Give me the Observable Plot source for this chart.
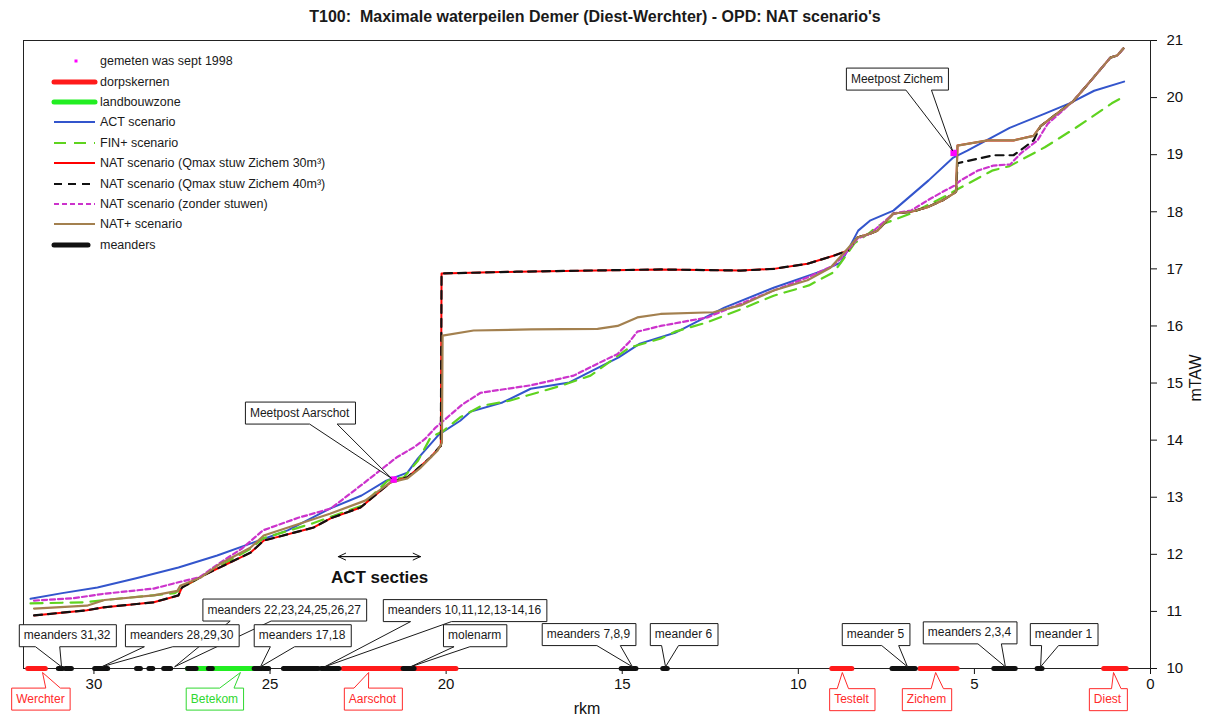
<!DOCTYPE html>
<html><head><meta charset="utf-8">
<script src="https://cdn.jsdelivr.net/npm/d3@7"></script>
<script src="https://cdn.jsdelivr.net/npm/@observablehq/plot@0.6"></script>
<style>
body{margin:0;background:#fff;font-family:"Liberation Sans",Arial,sans-serif;}
#wrap{position:relative;width:1205px;height:720px;overflow:hidden;}
#title{position:absolute;left:0;top:8px;width:1190px;text-align:center;font-family:"Liberation Sans Narrow","Liberation Sans",Arial,sans-serif;font-weight:bold;font-size:16px;white-space:pre;color:#1a1a1a;}
#chart{position:absolute;left:0;top:30px;}
#legend{position:absolute;left:50px;top:51px;font-size:12.5px;color:#1a1a1a;}
#legend .row{height:20.4px;display:flex;align-items:center;}
#legend svg{display:block;}
</style></head><body>
<div id="wrap"><div id="title"></div><div id="chart"></div><div id="legend"></div></div>
<script>
const title = "T100:  Maximale waterpeilen Demer (Diest-Werchter) - OPD: NAT scenario's";
const xTicks = [0, 5, 10, 15, 20, 25, 30];
const yTicks = [10, 11, 12, 13, 14, 15, 16, 17, 18, 19, 20, 21];
const xLabel = "rkm";
const yLabel = "mTAW";
const baseline = 10;

// [rkm, mTAW]
const actScenario = [[31.8,11.22],[30.9,11.32],[29.9,11.42],[28.8,11.58],[27.6,11.77],[26.5,11.98],[25.5,12.2],[24.5,12.42],[23.3,12.8],[22.4,13.03],[21.7,13.29],[21.1,13.43],[20.8,13.68],[20.2,14.1],[19.6,14.34],[19.3,14.5],[18.4,14.66],[17.6,14.9],[16.5,15.01],[16.0,15.17],[15.1,15.45],[14.5,15.69],[13.5,15.88],[12.1,16.32],[10.7,16.67],[9.3,16.97],[8.8,17.11],[8.6,17.32],[8.3,17.67],[7.95,17.85],[7.3,18.02],[6.3,18.55],[5.6,18.95],[5.2,19.07],[4.0,19.47],[3.0,19.72],[2.3,19.9],[1.6,20.12],[0.75,20.28]];

const finPlus = [[31.8,11.14],[30.3,11.16],[29.2,11.23],[27.7,11.32],[27.4,11.45],[26.8,11.66],[25.55,12.1],[25.2,12.28],[23.8,12.54],[22.4,12.85],[21.66,13.29],[21.2,13.35],[20.8,13.64],[20.44,14.05],[20.1,14.15],[19.6,14.4],[19.0,14.6],[18.2,14.69],[16.7,14.96],[15.9,15.13],[14.8,15.62],[13.9,15.78],[13.5,15.9],[12.6,16.06],[11.6,16.3],[10.7,16.53],[9.7,16.71],[9.0,16.94],[8.8,17.1],[8.4,17.45],[8.0,17.62],[7.75,17.75],[6.8,17.97],[5.9,18.25],[5.4,18.42],[4.5,18.72],[4.0,18.8],[3.0,19.13],[2.1,19.48],[1.1,19.9],[0.75,20.02]];

const nat30 = [[31.7,10.93],[30.2,11.02],[29.75,11.07],[28.3,11.16],[27.6,11.28],[27.5,11.42],[26.8,11.66],[25.55,12.03],[25.18,12.24],[23.76,12.47],[23.28,12.63],[22.43,12.82],[21.58,13.26],[21.1,13.35],[20.81,13.5],[20.44,13.7],[20.2,13.87],[20.15,13.9],[20.13,16.92],[18.0,16.95],[13.91,16.99],[11.64,16.97],[10.7,17.0],[9.74,17.09],[9.0,17.23],[8.6,17.32],[8.32,17.55],[7.95,17.62],[7.75,17.67],[7.3,17.97],[6.8,18.0],[6.33,18.08],[5.9,18.2],[5.59,18.32],[5.52,18.35],[5.48,19.16],[4.63,19.25],[3.89,19.25],[3.32,19.33],[3.12,19.5],[2.19,19.94],[1.62,20.35],[1.14,20.7],[0.94,20.74],[0.77,20.86]];

const nat40 = [[31.7,10.93],[30.2,11.02],[29.75,11.07],[28.3,11.16],[27.6,11.28],[27.5,11.42],[26.8,11.66],[25.55,12.03],[25.18,12.24],[23.76,12.47],[23.28,12.63],[22.43,12.82],[21.58,13.26],[21.1,13.35],[20.81,13.5],[20.44,13.7],[20.2,13.87],[20.15,13.9],[20.13,16.92],[18.0,16.95],[13.91,16.99],[11.64,16.97],[10.7,17.0],[9.74,17.09],[9.0,17.23],[8.6,17.32],[8.32,17.55],[7.95,17.62],[7.75,17.67],[7.3,17.97],[6.8,18.0],[6.33,18.08],[5.9,18.2],[5.59,18.32],[5.52,18.35],[5.48,18.85],[4.46,18.99],[3.89,18.99],[3.6,19.12],[3.32,19.25],[3.12,19.5],[2.19,19.94],[1.62,20.35],[1.14,20.7],[0.94,20.74],[0.77,20.86]];

const natZonder = [[31.7,11.19],[30.6,11.23],[29.7,11.31],[28.3,11.4],[27.6,11.51],[27.0,11.6],[26.4,11.86],[25.8,12.1],[25.2,12.42],[24.2,12.64],[23.28,12.8],[22.35,13.24],[21.4,13.7],[20.9,13.88],[20.6,14.02],[20.3,14.22],[19.55,14.62],[19.02,14.83],[17.6,14.96],[16.38,15.13],[15.7,15.34],[15.13,15.51],[14.8,15.72],[14.57,15.9],[13.91,16.0],[12.58,16.15],[11.64,16.39],[10.7,16.62],[9.74,16.85],[9.0,17.06],[8.72,17.23],[8.32,17.53],[7.95,17.62],[7.3,17.97],[6.8,18.02],[6.33,18.2],[5.9,18.35],[5.59,18.45],[5.39,18.55],[4.91,18.72],[4.46,18.81],[3.98,18.83],[3.69,19.02],[3.21,19.25],[2.92,19.54],[2.19,19.94],[1.62,20.35],[1.14,20.7],[0.94,20.74],[0.77,20.86]];

const natPlus = [[31.7,11.05],[30.2,11.1],[29.7,11.2],[28.3,11.28],[27.63,11.36],[27.55,11.45],[26.95,11.6],[26.4,11.84],[25.55,12.12],[25.18,12.33],[23.3,12.71],[22.3,12.94],[21.58,13.26],[21.1,13.33],[20.72,13.52],[20.24,13.82],[20.12,13.95],[20.1,15.83],[19.22,15.92],[17.6,15.94],[15.7,15.95],[15.13,16.0],[14.57,16.15],[13.91,16.21],[12.41,16.24],[11.64,16.36],[10.7,16.62],[9.74,16.8],[9.09,17.02],[8.72,17.27],[8.32,17.55],[7.95,17.62],[7.75,17.67],[7.3,17.97],[6.8,18.0],[6.33,18.08],[5.9,18.2],[5.59,18.32],[5.52,18.35],[5.48,19.16],[4.63,19.25],[3.89,19.25],[3.32,19.33],[3.12,19.5],[2.19,19.94],[1.62,20.35],[1.14,20.7],[0.94,20.74],[0.77,20.86]];

const gemeten = [[21.49,13.31],[5.59,19.03]];

// zones along the river: [from rkm, to rkm]
const dorpskernen = [[31.88,31.38],[22.93,19.72],[9.05,8.48],[6.55,5.49],[1.33,0.69]];
const landbouwzone = [[27.34,25.14]];
const meanders = [[31.01,30.89],[30.81,30.64],[29.98,29.61],[28.79,28.68],[28.44,28.33],[28.02,27.82],[27.34,27.1],[26.75,26.64],[25.45,25.24],[25.18,25.04],[24.62,23.63],[23.55,23.04],[21.22,20.91],[15.03,14.61],[13.85,13.72],[7.34,6.68],[4.45,3.84],[3.22,3.08]];

// callouts: label, box centre (rkm, mTAW), pointer tip (rkm, mTAW)
const calloutLabels = ["meanders 31,32","meanders 22,23,24,25,26,27","meanders 28,29,30","meanders 17,18","meanders 10,11,12,13-14,16","molenarm","meanders 7,8,9","meander 6","meander 5","meanders 2,3,4","meander 1","Meetpost Aarschot","Meetpost Zichem","Werchter","Betekom","Aarschot","Testelt","Zichem","Diest"];
const calloutBoxKm = [30.76,24.6,27.51,24.09,19.48,19.19,15.96,13.26,7.81,5.14,2.47,24.16,7.2,31.52,26.58,22.09,8.49,6.36,1.22];
const calloutBoxH = [10.58,11.03,10.58,10.58,11.02,10.58,10.6,10.6,10.6,10.63,10.6,14.48,20.33,9.47,9.47,9.47,9.46,9.46,9.46];
const calloutTipKm = [30.92,27.71,29.78,25.27,23.45,21.01,14.71,13.77,6.9,4.12,3.12,21.55,5.62,31.46,25.84,22.2,8.75,6.1,1.05];
const calloutTipH = [10.03,10.03,10.03,10.03,10.03,10.03,10.03,10.03,10.03,10.03,10.03,13.33,19.07,9.93,9.93,9.93,9.93,9.93,9.93];
const calloutKind = ["m","m","m","m","m","m","m","m","m","m","m","m","m","dorp","landbouw","dorp","dorp","dorp","dorp"];

const actSecties = {label: "ACT secties", from: 23.06, to: 20.73, level: 11.96, textKm: 21.89, textH: 11.59};

const legendLabels = ["gemeten was sept 1998","dorpskernen","landbouwzone","ACT scenario","FIN+ scenario","NAT scenario (Qmax stuw Zichem 30m³)","NAT scenario (Qmax stuw Zichem 40m³)","NAT scenario (zonder stuwen)","NAT+ scenario","meanders"];

// styles
const kindColor = {m: "#1a1a1a", dorp: "#ff2a2a", landbouw: "#2fd82f"};
const styles = {
  act: {stroke: "#3355cc", strokeWidth: 2},
  fin: {stroke: "#5fd31f", strokeWidth: 2.2, strokeDasharray: "12,8"},
  nat30: {stroke: "#ff0000", strokeWidth: 2},
  nat40: {stroke: "#111111", strokeWidth: 2.2, strokeDasharray: "8,6"},
  zonder: {stroke: "#cc33cc", strokeWidth: 2.2, strokeDasharray: "5,3"},
  natPlus: {stroke: "#a3804f", strokeWidth: 2.2},
  dorp: {stroke: "#ff1a1a", strokeWidth: 5, strokeLinecap: "round"},
  land: {stroke: "#22ee22", strokeWidth: 5, strokeLinecap: "round"},
  meander: {stroke: "#111111", strokeWidth: 5, strokeLinecap: "round"}
};

document.getElementById("title").textContent = title;

const callouts = calloutLabels.map((label, i) => ({label, x: calloutBoxKm[i], y: calloutBoxH[i], tx: calloutTipKm[i], ty: calloutTipH[i], kind: calloutKind[i]}));
const px = d => d[0], py = d => d[1];
const zone = (data, st) => Plot.link(data, {x1: d => d[0], x2: d => d[1], y1: () => baseline, y2: () => baseline, ...st});

const chart = Plot.plot({
  width: 1205, height: 690,
  marginTop: 10, marginBottom: 52, marginLeft: 23, marginRight: 55,
  style: {fontFamily: "'Liberation Sans', Arial, sans-serif", fontSize: "15px", color: "#111", background: "white"},
  x: {domain: [32, 0], label: null},
  y: {domain: [10, 21], label: null},
  color: {type: "identity"},
  marks: [
    Plot.axisX({ticks: xTicks, tickSize: 6, tickPadding: 4, label: null, tickFormat: d => String(d)}),
    Plot.axisY({anchor: "right", ticks: yTicks, tickSize: 6, tickPadding: 10, label: null, tickFormat: d => String(d)}),
    Plot.text([xLabel], {frameAnchor: "bottom", text: d => d, dy: 45, fontSize: 16}),
    Plot.text([yLabel], {frameAnchor: "right", text: d => d, dx: 45, rotate: -90, fontSize: 16}),
    Plot.line(actScenario, {x: px, y: py, ...styles.act}),
    Plot.line(finPlus, {x: px, y: py, ...styles.fin}),
    Plot.line(nat30, {x: px, y: py, ...styles.nat30}),
    Plot.line(nat40, {x: px, y: py, ...styles.nat40}),
    Plot.line(natZonder, {x: px, y: py, ...styles.zonder}),
    Plot.line(natPlus, {x: px, y: py, ...styles.natPlus}),
    Plot.frame({stroke: "#222"}),
    zone(dorpskernen, styles.dorp),
    zone(landbouwzone, styles.land),
    zone(meanders, styles.meander),
    Plot.dot(gemeten, {x: px, y: py, symbol: "square", r: 3.6, fill: "#ff00ff", stroke: "none"}),
    Plot.arrow([actSecties], {x1: d => d.from, x2: d => d.to, y1: d => d.level, y2: d => d.level, stroke: "#111", strokeWidth: 1, headLength: 12, headAngle: 50}),
    Plot.arrow([actSecties], {x1: d => d.to, x2: d => d.from, y1: d => d.level, y2: d => d.level, stroke: "#111", strokeWidth: 1, headLength: 12, headAngle: 50}),
    Plot.text([actSecties], {x: d => d.textKm, y: d => d.textH, text: d => d.label, fontSize: 17, fontWeight: "bold", fill: "#111"}),
    Plot.text(callouts, {x: "x", y: "y", text: "label", fill: d => kindColor[d.kind], fontSize: 12, ariaLabel: "callouts", className: "callouts"})
  ]
});
document.getElementById("chart").appendChild(chart);

// draw callout boxes with wedge pointers around the callout texts
(function drawCallouts() {
  const ns = "http://www.w3.org/2000/svg";
  const xs = chart.scale("x"), ys = chart.scale("y");
  const sr = chart.getBoundingClientRect();
  let g = chart.querySelector("g.callouts") || chart.querySelector('g[aria-label="callouts"]');
  if (!g) return;
  const texts = g.querySelectorAll("text");
  texts.forEach((t, i) => {
    const c = callouts[i];
    const r = t.getBoundingClientRect();
    const padX = 5, padY = 5;
    const x0 = r.left - sr.left - padX, x1 = r.right - sr.left + padX;
    const y0 = r.top - sr.top - padY + 1, y1 = r.bottom - sr.top + padY - 1;
    const w = x1 - x0;
    const tx = xs.apply(c.tx), ty = ys.apply(c.ty);
    const cx = (x0 + x1) / 2;
    const b1 = tx < cx ? x0 + w * 2 / 12 : x0 + w * 7 / 12;
    const b2 = tx < cx ? x0 + w * 5 / 12 : x0 + w * 10 / 12;
    let d;
    if (ty > y1) {
      d = `M${x0},${y0}H${x1}V${y1}H${b2}L${tx},${ty}L${b1},${y1}H${x0}Z`;
    } else {
      d = `M${x0},${y0}H${b1}L${tx},${ty}L${b2},${y0}H${x1}V${y1}H${x0}Z`;
    }
    const p = document.createElementNS(ns, "path");
    p.setAttribute("d", d);
    p.setAttribute("fill", "white");
    p.setAttribute("stroke", kindColor[c.kind]);
    p.setAttribute("stroke-width", "1");
    g.insertBefore(p, t);
  });
})();

// legend
(function drawLegend() {
  const kinds = [
    {dot: "#ff00ff"},
    {stroke: styles.dorp.stroke, w: 5},
    {stroke: styles.land.stroke, w: 5},
    {stroke: styles.act.stroke, w: 2},
    {stroke: styles.fin.stroke, w: 2.2, dash: "12,8"},
    {stroke: styles.nat30.stroke, w: 2},
    {stroke: styles.nat40.stroke, w: 2.2, dash: "8,6"},
    {stroke: styles.zonder.stroke, w: 2.2, dash: "5,3"},
    {stroke: styles.natPlus.stroke, w: 2.2},
    {stroke: styles.meander.stroke, w: 5, short: true}
  ];
  const leg = d3.select("#legend");
  legendLabels.forEach((label, i) => {
    const k = kinds[i];
    const row = leg.append("div").attr("class", "row");
    const s = row.append("svg").attr("width", 50).attr("height", 20);
    if (k.dot) {
      s.append("rect").attr("x", 24.5).attr("y", 8.5).attr("width", 3).attr("height", 3).attr("fill", k.dot);
    } else {
      s.append("line").attr("x1", 4).attr("x2", k.short ? 38 : 45).attr("y1", 10).attr("y2", 10)
        .attr("stroke", k.stroke).attr("stroke-width", k.w)
        .attr("stroke-linecap", k.w >= 5 ? "round" : "butt")
        .attr("stroke-dasharray", k.dash || null);
    }
    row.append("span").text(label);
  });
})();
</script>
</body></html>
